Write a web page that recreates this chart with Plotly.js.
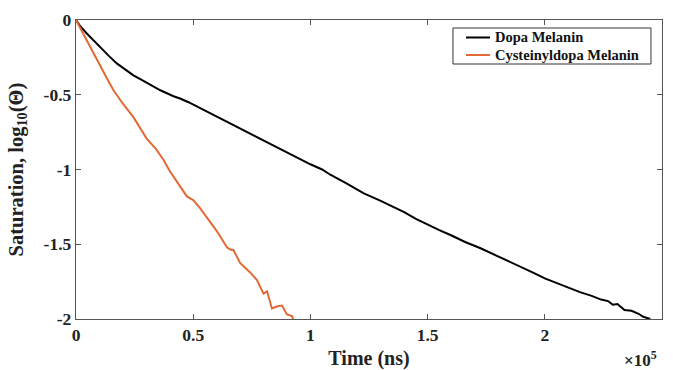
<!DOCTYPE html>
<html>
<head>
<meta charset="utf-8">
<script src="https://cdn.plot.ly/plotly-3.0.1.min.js"></script>
<style>html,body{margin:0;padding:0;background:#fff}#chart{width:673px;height:370px}</style>
</head>
<body>
<div id="chart"></div>
<script>
// Time in units of 10^5 ns
const dopaTime = [0, 0.02, 0.046, 0.07, 0.103, 0.14, 0.174, 0.21, 0.245, 0.28, 0.316, 0.36, 0.416, 0.444, 0.48, 0.53, 0.6, 0.65, 0.7, 0.75, 0.8, 0.872, 0.95, 1.0, 1.05, 1.085, 1.15, 1.228, 1.3, 1.35, 1.4, 1.45, 1.5, 1.55, 1.6, 1.66, 1.726, 1.8, 1.85, 1.9, 1.95, 2.0, 2.05, 2.1, 2.15, 2.2, 2.24, 2.27, 2.29, 2.31, 2.34, 2.37, 2.4, 2.42, 2.44, 2.45];
const dopaSat = [0, -0.045, -0.09, -0.13, -0.18, -0.24, -0.29, -0.33, -0.37, -0.40, -0.43, -0.47, -0.51, -0.525, -0.55, -0.59, -0.645, -0.685, -0.725, -0.765, -0.81, -0.868, -0.925, -0.965, -1.0, -1.035, -1.09, -1.16, -1.21, -1.245, -1.285, -1.33, -1.37, -1.405, -1.44, -1.485, -1.527, -1.58, -1.615, -1.655, -1.69, -1.728, -1.76, -1.79, -1.82, -1.845, -1.87, -1.88, -1.905, -1.9, -1.94, -1.945, -1.965, -1.985, -1.995, -2.0];
const cysTime = [0, 0.015, 0.03, 0.06, 0.103, 0.13, 0.16, 0.2, 0.245, 0.27, 0.302, 0.34, 0.373, 0.4, 0.43, 0.473, 0.5, 0.53, 0.558, 0.6, 0.644, 0.658, 0.672, 0.7, 0.744, 0.772, 0.8, 0.815, 0.836, 0.86, 0.879, 0.9, 0.922, 0.926];
const cysSat = [0, -0.045, -0.09, -0.18, -0.31, -0.385, -0.47, -0.56, -0.65, -0.71, -0.795, -0.86, -0.935, -1.01, -1.08, -1.18, -1.205, -1.26, -1.32, -1.41, -1.52, -1.535, -1.54, -1.625, -1.69, -1.74, -1.83, -1.815, -1.93, -1.915, -1.91, -1.97, -1.98, -2.0];
const seriesNames = ['Dopa Melanin', 'Cysteinyldopa Melanin'];
const seriesColors = ['#000000', '#E26A35'];
const xTickVals = [0, 0.5, 1, 1.5, 2, 2.5];
const xTickText = ['0', '0.5', '1', '1.5', '2', '2.5'];
const yTickVals = [0, -0.5, -1, -1.5, -2];
const yTickText = ['0', '-0.5', '-1', '-1.5', '-2'];

const FONT = 'Liberation Serif';
const bold = s => '<b>' + s + '</b>';
const traces = [
  {x: dopaTime, y: dopaSat, name: seriesNames[0], mode: 'lines', line: {color: seriesColors[0], width: 2}, showlegend: false},
  {x: cysTime, y: cysSat, name: seriesNames[1], mode: 'lines', line: {color: seriesColors[1], width: 2}, showlegend: false}
];
const axisCommon = {
  showline: true, linecolor: '#555', linewidth: 1.2, mirror: 'ticks',
  ticks: 'inside', ticklen: 5, tickcolor: '#555', tickwidth: 1,
  showgrid: false, zeroline: false,
  tickfont: {family: FONT, size: 17.5, color: '#222', weight: 'bold'}
};

// manual legend (MATLAB-style compact box)
const leg = {x0: 0.6433, x1: 0.9812, y0: 0.8528, y1: 0.9732, rows: [0.9415, 0.8829], lx0: 0.6655, lx1: 0.7065, tx: 0.7133};
const shapes = [
  {type: 'rect', xref: 'paper', yref: 'paper', x0: leg.x0, x1: leg.x1, y0: leg.y0, y1: leg.y1,
   line: {color: '#333', width: 1}, fillcolor: '#fff', layer: 'above'}
];
const annotations = [];
seriesNames.forEach((nm, i) => {
  shapes.push({type: 'line', xref: 'paper', yref: 'paper', x0: leg.lx0, x1: leg.lx1, y0: leg.rows[i], y1: leg.rows[i],
    line: {color: seriesColors[i], width: 2}, layer: 'above'});
  annotations.push({xref: 'paper', yref: 'paper', x: leg.tx, y: leg.rows[i], xanchor: 'left', yanchor: 'middle',
    text: bold(nm), showarrow: false, borderpad: 0, font: {family: FONT, size: 14.5, color: '#111'}});
});
annotations.push({
  xref: 'paper', yref: 'paper', x: 0.993, y: -0.174, xanchor: 'right', yanchor: 'bottom',
  text: bold('×10<sup>5</sup>'), showarrow: false, borderpad: 0,
  font: {family: FONT, size: 17, color: '#222'}
});

const layout = {
  width: 673, height: 370,
  margin: {l: 76, r: 11, t: 20, b: 51},
  paper_bgcolor: '#fff', plot_bgcolor: '#fff',
  showlegend: false,
  xaxis: Object.assign({}, axisCommon, {
    range: [0, 2.5], tickvals: xTickVals, ticktext: xTickText.map(bold),
    title: {text: bold('Time (ns)'), font: {family: FONT, size: 20, color: '#222'}, standoff: 8}
  }),
  yaxis: Object.assign({}, axisCommon, {
    range: [-2, 0], tickvals: yTickVals, ticktext: yTickText.map(bold),
    title: {text: bold('Saturation, log<sub>10</sub>(Θ)'), font: {family: FONT, size: 20.5, color: '#222'}, standoff: 14}
  }),
  shapes: shapes,
  annotations: annotations
};
Plotly.newPlot('chart', traces, layout, {displayModeBar: false, staticPlot: true});
</script>
</body>
</html>
